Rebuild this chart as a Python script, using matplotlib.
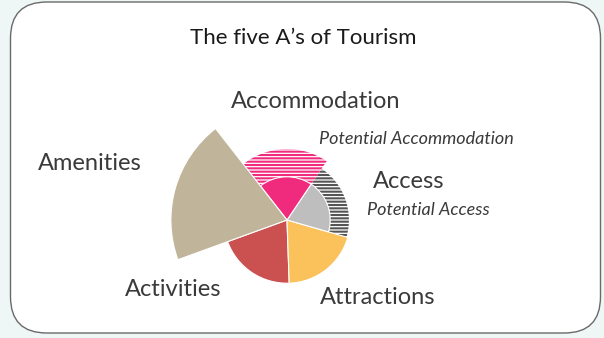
import numpy as np
import matplotlib
matplotlib.use("Agg")
import matplotlib.pyplot as plt
from matplotlib.patches import FancyBboxPatch

# Datos del gráfico (radios relativos de cada sector)
categorias = ["Activities", "Attractions", "Access", "Accommodation", "Amenities"]
valores = [4.9, 4.9, 3.35, 3.35, 9.0]
colores = ["#CB5050", "#FBC15A", "#BEBEBE", "#F02B7D", "#C0B49A"]

potenciales = ["Potential Access", "Potential Accommodation"]
potencial_idx = [2, 3]
potencial_val = [4.8, 5.5]
potencial_col = ["#555555", "#F02B7D"]

plt.rcParams["font.family"] = ["Lato", "DejaVu Sans"]
plt.rcParams["hatch.linewidth"] = 1.5

W, H = 604, 338
fig = plt.figure(figsize=(W / 100, H / 100), dpi=100)
fig.patch.set_facecolor("#EEF6F6")

# Marco redondeado
marco = FancyBboxPatch((10.5 / W, 5 / H), 590 / W, 331 / H,
                       boxstyle="round,pad=0,rounding_size=0.06",
                       transform=fig.transFigure, facecolor="white",
                       edgecolor="#6a6a6a", linewidth=1.0,
                       mutation_aspect=W / H, zorder=-5)
fig.patches.append(marco)

# Ejes polares centrados en el pie
cx, cy, R = 287, 220, 129
ax = fig.add_axes([(cx - R) / W, 1 - (cy + R) / H, 2 * R / W, 2 * R / H],
                  projection="polar")
ax.set_zorder(2)
ax.set_theta_offset(np.deg2rad(-160))
ax.set_ylim(0, 10)
ax.axis("off")

n = len(categorias)
ancho = 2 * np.pi / n
theta = np.arange(n) * ancho + ancho / 2

for i, v, c in zip(potencial_idx, potencial_val, potencial_col):
    ax.bar(theta[i], v, width=ancho, bottom=0, facecolor="white",
           edgecolor=c, linewidth=0, hatch="-----", zorder=1)

ax.bar(theta, valores, width=ancho, bottom=0, color=colores,
       edgecolor="white", linewidth=0.8, zorder=2)

# Textos
txt = "#3a3a3a"
fig.text(303 / W, 1 - 38 / H, "The five A\u2019s of Tourism", ha="center",
         va="center", fontsize=16, color="#1a1a1a")
etiquetas = {
    "Accommodation": (316, 102),
    "Amenities": (90, 163),
    "Access": (409, 181),
    "Activities": (173, 289),
    "Attractions": (378, 297),
}
for k, (x, y) in etiquetas.items():
    fig.text(x / W, 1 - y / H, k, ha="center", va="center",
             fontsize=17, color=txt)
fig.text(416 / W, 1 - 139 / H, "Potential Accommodation", ha="center",
         va="center", fontsize=13, style="italic", color=txt)
fig.text(428 / W, 1 - 210 / H, "Potential Access", ha="center",
         va="center", fontsize=13, style="italic", color=txt)

fig.savefig("out.png", dpi=100, facecolor=fig.get_facecolor())
